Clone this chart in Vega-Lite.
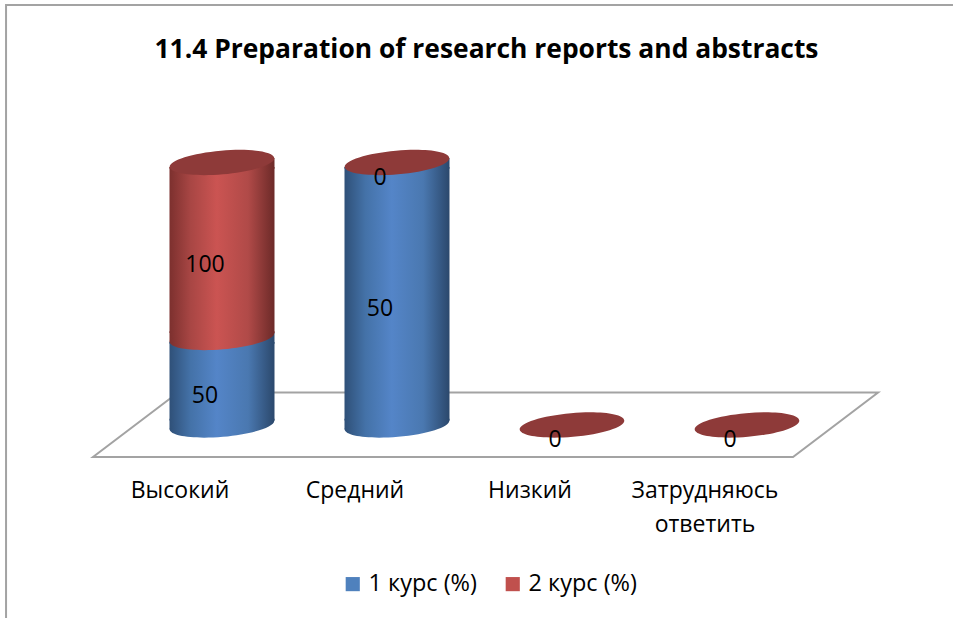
{"$schema":"https://vega.github.io/schema/vega-lite/v6.json","width":953,"height":618,"autosize":{"type":"none"},"padding":0,"background":"white","config":{"view":{"stroke":null},"font":"Open Sans"},
"title":{"text":"11.4 Preparation of research reports and abstracts","font":"Open Sans","fontSize":26.4,"fontWeight":"bold","color":"#000000","anchor":"middle","frame":"group","orient":"top","offset":-63,"dx":10},
"datasets":{"frame":[{"part":"frame","i":0,"x":-0.734,"y":-0.751},{"part":"frame","i":1,"x":-0.734,"y":1.6},{"part":"frame","i":2,"x":4.677,"y":1.6},{"part":"floor","i":0,"x":0.249,"y":0.124},{"part":"floor","i":1,"x":-0.237,"y":-0.122},{"part":"floor","i":2,"x":3.763,"y":-0.122},{"part":"floor","i":3,"x":4.249,"y":0.124},{"part":"floor","i":4,"x":0.249,"y":0.124}],
"bars":[{"category":"Высокий","series":"1 курс (%)","value":50},{"category":"Средний","series":"1 курс (%)","value":50},{"category":"Низкий","series":"1 курс (%)","value":0},{"category":"Затрудняюсь ответить","series":"1 курс (%)","value":0},{"category":"Высокий","series":"2 курс (%)","value":100},{"category":"Средний","series":"2 курс (%)","value":0},{"category":"Низкий","series":"2 курс (%)","value":0},{"category":"Затрудняюсь ответить","series":"2 курс (%)","value":0}]},
"resolve":{"scale":{"x":"independent"},"axis":{"x":"independent"}},
"layer":[
{"data":{"name":"frame"},"mark":{"type":"line","color":"#a3a3a3","strokeWidth":2,"clip":false},"encoding":{"x":{"field":"x","type":"quantitative","axis":null,"scale":{"domain":[0,4],"range":[134.5,834.5],"nice":false,"zero":false}},"y":{"field":"y","type":"quantitative","axis":null,"scale":{"domain":[0,1],"range":[425,162.5],"nice":false,"zero":false}},"detail":{"field":"part"},"order":{"field":"i","type":"quantitative"}}},
{"data":{"name":"bars"},"transform":[{"stack":"value","groupby":["category"],"sort":[{"field":"series","order":"ascending"}],"offset":"normalize","as":["s0","s1"]},{"calculate":"isValid(datum.s0)&&isFinite(datum.s0)?datum.s0:0","as":"y0"},{"calculate":"isValid(datum.s1)&&isFinite(datum.s1)?datum.s1:0","as":"y1"},{"calculate":"(datum.y0+datum.y1)/2","as":"mid"}],
"encoding":{"x":{"field":"category","type":"nominal","sort":["Высокий","Средний","Низкий","Затрудняюсь ответить"],"title":null,"scale":{"type":"band","range":[134.5,834.5],"paddingInner":0.4,"paddingOuter":0.2},"axis":{"domain":false,"ticks":false,"labelAngle":0,"offset":-161,"labelPadding":22,"labelOffset":-42,"labelFont":"Open Sans","labelFontSize":23,"labelColor":"#000000","labelLimit":0,"labelLineHeight":34,"labelExpr":"split(datum.label,' ')"}}},
"layer":[
{"mark":{"type":"point","shape":"square","filled":true,"size":0},"encoding":{"y":{"field":"y1","type":"quantitative","axis":null,"scale":{"domain":[0,1],"range":[425,162.5],"nice":false,"zero":false}},"color":{"field":"series","type":"nominal","scale":{"domain":["1 курс (%)","2 курс (%)"],"range":["#4f81bd","#c0504d"]},"legend":{"title":null,"orient":"none","legendX":341,"legendY":572,"direction":"horizontal","symbolType":"square","symbolSize":200,"symbolOpacity":1,"labelFont":"Open Sans","labelFontSize":23.5,"labelColor":"#000000","columnPadding":24,"labelOffset":4}}}},
{"transform":[{"filter":"datum.series==='1 курс (%)' && datum.value>0"}],"mark":{"type":"point","shape":"M-1,-0.12 L1,-0.12 L1,-0.087 L-1,0.087 Z","filled":true,"size":11025,"opacity":1,"strokeWidth":0,"fill":{"gradient":"linear","stops":[{"offset":0,"color":"#2f5078"},{"offset":0.2,"color":"#4472a8"},{"offset":0.45,"color":"#5485c8"},{"offset":0.75,"color":"#4a78b0"},{"offset":1,"color":"#2b486c"}]}},"encoding":{"y":{"field":"y0","type":"quantitative"}}},
{"transform":[{"filter":"datum.series==='1 курс (%)' && datum.value>0"}],"mark":{"type":"point","shape":"M-0.996,0.087 C-1.007,-0.0375 -0.57,-0.177 -0.02,-0.225 C0.53,-0.273 0.985,-0.2115 0.996,-0.087 C1.007,0.0375 0.57,0.177 0.02,0.225 C-0.53,0.273 -0.985,0.2115 -0.996,0.087 Z","filled":true,"size":11025,"opacity":1,"strokeWidth":0,"fill":{"gradient":"linear","stops":[{"offset":0,"color":"#2f5078"},{"offset":0.2,"color":"#4472a8"},{"offset":0.45,"color":"#5485c8"},{"offset":0.75,"color":"#4a78b0"},{"offset":1,"color":"#2b486c"}]}},"encoding":{"y":{"field":"y0","type":"quantitative"}}},
{"transform":[{"filter":"datum.series==='1 курс (%)' && datum.value>0"}],"mark":{"type":"bar","yOffset":4.5,"y2Offset":-4.5,"fill":{"gradient":"linear","stops":[{"offset":0,"color":"#2f5078"},{"offset":0.2,"color":"#4472a8"},{"offset":0.45,"color":"#5485c8"},{"offset":0.75,"color":"#4a78b0"},{"offset":1,"color":"#2b486c"}]}},"encoding":{"y":{"field":"y1","type":"quantitative"},"y2":{"field":"y0"}}},
{"transform":[{"filter":"datum.series==='1 курс (%)' && datum.value>0"}],"mark":{"type":"point","shape":"M-1,0.12 L1,0.12 L1,-0.087 L-1,0.087 Z","filled":true,"size":11025,"opacity":1,"strokeWidth":0,"fill":{"gradient":"linear","stops":[{"offset":0,"color":"#2f5078"},{"offset":0.2,"color":"#4472a8"},{"offset":0.45,"color":"#5485c8"},{"offset":0.75,"color":"#4a78b0"},{"offset":1,"color":"#2b486c"}]}},"encoding":{"y":{"field":"y1","type":"quantitative"}}},
{"transform":[{"filter":"datum.series==='2 курс (%)' && datum.value>0"}],"mark":{"type":"point","shape":"M-1,-0.12 L1,-0.12 L1,-0.087 L-1,0.087 Z","filled":true,"size":11025,"opacity":1,"strokeWidth":0,"fill":{"gradient":"linear","stops":[{"offset":0,"color":"#7c302e"},{"offset":0.2,"color":"#a84644"},{"offset":0.45,"color":"#cb5452"},{"offset":0.75,"color":"#b04a48"},{"offset":1,"color":"#6c2a28"}]}},"encoding":{"y":{"field":"y0","type":"quantitative"}}},
{"transform":[{"filter":"datum.series==='2 курс (%)' && datum.value>0"}],"mark":{"type":"point","shape":"M-0.996,0.087 C-1.007,-0.0375 -0.57,-0.177 -0.02,-0.225 C0.53,-0.273 0.985,-0.2115 0.996,-0.087 C1.007,0.0375 0.57,0.177 0.02,0.225 C-0.53,0.273 -0.985,0.2115 -0.996,0.087 Z","filled":true,"size":11025,"opacity":1,"strokeWidth":0,"fill":{"gradient":"linear","stops":[{"offset":0,"color":"#7c302e"},{"offset":0.2,"color":"#a84644"},{"offset":0.45,"color":"#cb5452"},{"offset":0.75,"color":"#b04a48"},{"offset":1,"color":"#6c2a28"}]}},"encoding":{"y":{"field":"y0","type":"quantitative"}}},
{"transform":[{"filter":"datum.series==='2 курс (%)' && datum.value>0"}],"mark":{"type":"bar","yOffset":4.5,"y2Offset":-4.5,"fill":{"gradient":"linear","stops":[{"offset":0,"color":"#7c302e"},{"offset":0.2,"color":"#a84644"},{"offset":0.45,"color":"#cb5452"},{"offset":0.75,"color":"#b04a48"},{"offset":1,"color":"#6c2a28"}]}},"encoding":{"y":{"field":"y1","type":"quantitative"},"y2":{"field":"y0"}}},
{"transform":[{"filter":"datum.series==='2 курс (%)' && datum.value>0"}],"mark":{"type":"point","shape":"M-1,0.12 L1,0.12 L1,-0.087 L-1,0.087 Z","filled":true,"size":11025,"opacity":1,"strokeWidth":0,"fill":{"gradient":"linear","stops":[{"offset":0,"color":"#7c302e"},{"offset":0.2,"color":"#a84644"},{"offset":0.45,"color":"#cb5452"},{"offset":0.75,"color":"#b04a48"},{"offset":1,"color":"#6c2a28"}]}},"encoding":{"y":{"field":"y1","type":"quantitative"}}},
{"transform":[{"filter":"datum.series==='2 курс (%)'"}],"mark":{"type":"point","shape":"M-0.996,0.087 C-1.007,-0.0375 -0.57,-0.177 -0.02,-0.225 C0.53,-0.273 0.985,-0.2115 0.996,-0.087 C1.007,0.0375 0.57,0.177 0.02,0.225 C-0.53,0.273 -0.985,0.2115 -0.996,0.087 Z","filled":true,"size":11025,"opacity":1,"strokeWidth":0,"fill":"#8e3a39"},"encoding":{"y":{"field":"y1","type":"quantitative"}}},
{"transform":[{"filter":"datum.value>0 || datum.series==='2 курс (%)'"}],"mark":{"type":"text","font":"Open Sans","fontSize":23,"color":"#000000","dx":-17,"dy":15,"baseline":"middle","align":"center"},"encoding":{"y":{"field":"mid","type":"quantitative"},"text":{"field":"value","type":"quantitative"}}}
]}
]}
